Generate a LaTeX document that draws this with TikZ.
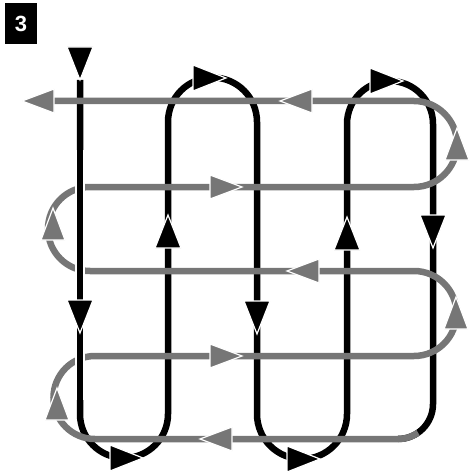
\documentclass[tikz,border=0pt]{standalone}
\usepackage{fontspec}
\setmainfont{Liberation Sans}
\definecolor{gline}{RGB}{118,118,118}
\tikzset{
 blackline/.style={line width=6.5pt, black},
 grayline/.style={line width=6.5pt, gline},
 halo/.style={line width=10pt, white},
 barrow/.style={fill=black, draw=white, line width=1.2pt},
 garrow/.style={fill=gline, draw=white, line width=1.2pt},
 numbox/.style={fill=black, text=white, font=\bfseries\fontsize{22}{22}\selectfont, minimum width=32pt, minimum height=41pt, inner sep=0pt},
}
\newcommand\arD[5]{\filldraw[#1] (#2,#3) -- ++(-#5,-#4) -- ++({2*#5},0) -- cycle;}
\newcommand\arU[5]{\filldraw[#1] (#2,#3) -- ++(-#5,#4) -- ++({2*#5},0) -- cycle;}
\newcommand\arR[5]{\filldraw[#1] (#2,#3) -- ++(-#4,-#5) -- ++(0,{2*#5}) -- cycle;}
\newcommand\arL[5]{\filldraw[#1] (#2,#3) -- ++(#4,-#5) -- ++(0,{2*#5}) -- cycle;}
\begin{document}
\begin{tikzpicture}[x=1pt,y=1pt,yscale=-1]
\useasboundingbox (0,0) rectangle (469,473);
\node[numbox] (num) at (21,23.5) {3};
% black serpentine
\draw[blackline] (80,80) -- (80,414) arc(180:0:44) -- (168,122) arc(180:360:44.5)
  -- (257,414) arc(180:0:45) -- (347,124) arc(180:360:43) -- (433,404) arc(0:90:35);
% gray serpentine
\draw[grayline] (418.07,432.67) arc(55:90:35) -- (95,439) arc(90:270:41.5)
  -- (414,356) arc(90:-90:42.5) -- (90,271) arc(90:270:42)
  -- (414,187) arc(90:-90:43) -- (52,101);
% black left column over gray
\draw[halo] (80,150) -- (80,400);
\draw[blackline] (80,118) -- (80,402);
% black arrowheads
\arD{barrow}{80}{80}{33}{13}
\arD{barrow}{80}{333}{33}{13}
\arR{barrow}{143}{458}{33}{13}
\arU{barrow}{168}{215}{33}{13}
\arR{barrow}{226}{78}{33}{13}
\arD{barrow}{257}{334}{33}{13}
\arR{barrow}{320}{459}{33}{13}
\arU{barrow}{347}{217}{33}{13}
\arR{barrow}{403}{81}{33}{13}
\arD{barrow}{433}{248}{33}{13}
% gray arrowheads
\arL{garrow}{22}{101}{32}{12}
\arL{garrow}{280}{101}{32}{12}
\arR{garrow}{242}{187}{32}{12}
\arU{garrow}{457}{128}{32}{12}
\arL{garrow}{287}{271}{32}{12}
\arU{garrow}{53}{208}{32}{12}
\arR{garrow}{242}{356}{32}{12}
\arU{garrow}{456}{297}{32}{12}
\arL{garrow}{200}{439}{32}{12}
\arU{garrow}{57}{388}{32}{12}
\end{tikzpicture}
\end{document}
